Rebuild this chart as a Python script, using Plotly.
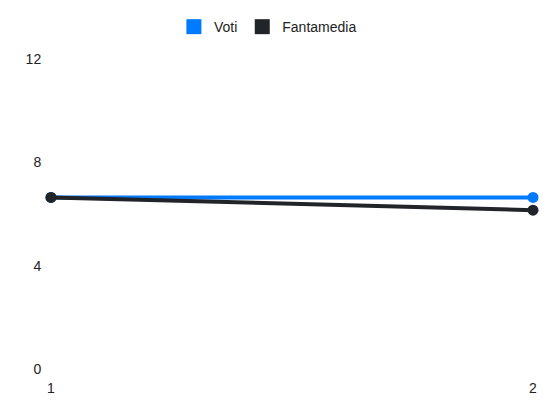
import plotly.graph_objects as go

# ============================================
# Data
# ============================================

giornate = [1, 2]
voti = [6.64, 6.64]
fantamedia = [6.64, 6.15]

y_ticks = [0, 4, 8, 12]

BLUE = "#007bff"
DARK = "#212529"

# ============================================
# Chart
# ============================================

fig = go.Figure()

fig.add_trace(
    go.Scatter(
        x=giornate,
        y=voti,
        mode="lines+markers",
        line=dict(color=BLUE, width=4),
        marker=dict(color=BLUE, size=11),
        cliponaxis=False,
        showlegend=False,
        name="Voti"
    )
)

fig.add_trace(
    go.Scatter(
        x=giornate,
        y=fantamedia,
        mode="lines+markers",
        line=dict(color=DARK, width=4),
        marker=dict(color=DARK, size=11),
        cliponaxis=False,
        showlegend=False,
        name="Fantamedia"
    )
)

# legend entries with square swatches
for name, color in [("Voti", BLUE), ("Fantamedia", DARK)]:
    fig.add_trace(
        go.Scatter(
            x=[None],
            y=[None],
            mode="markers",
            marker=dict(color=color, size=15, symbol="square"),
            name=name
        )
    )

# page body has an 8px margin, so the figure is a bit smaller than the window
fig.update_layout(

    width=542,
    height=404,

    margin=dict(
        l=43,
        r=17,
        t=51,
        b=43,
        autoexpand=False
    ),

    paper_bgcolor="white",
    plot_bgcolor="white",

    font=dict(
        family="Liberation Sans, Arial, sans-serif",
        size=14,
        color="#222222"
    ),

    legend=dict(
        orientation="h",
        x=0.45,
        xanchor="center",
        y=1.103,
        yanchor="middle",
        font=dict(size=14),
        itemwidth=30
    ),

    xaxis=dict(
        range=[1, 2],
        tickvals=giornate,
        showgrid=False,
        zeroline=False,
        showline=False,
        ticks="outside",
        ticklen=6,
        tickcolor="rgba(0,0,0,0)"
    ),

    yaxis=dict(
        range=[0, 12],
        tickvals=y_ticks,
        showgrid=False,
        zeroline=False,
        showline=False,
        ticks="outside",
        ticklen=6,
        tickcolor="rgba(0,0,0,0)"
    )

)

fig.write_html("out.html")
